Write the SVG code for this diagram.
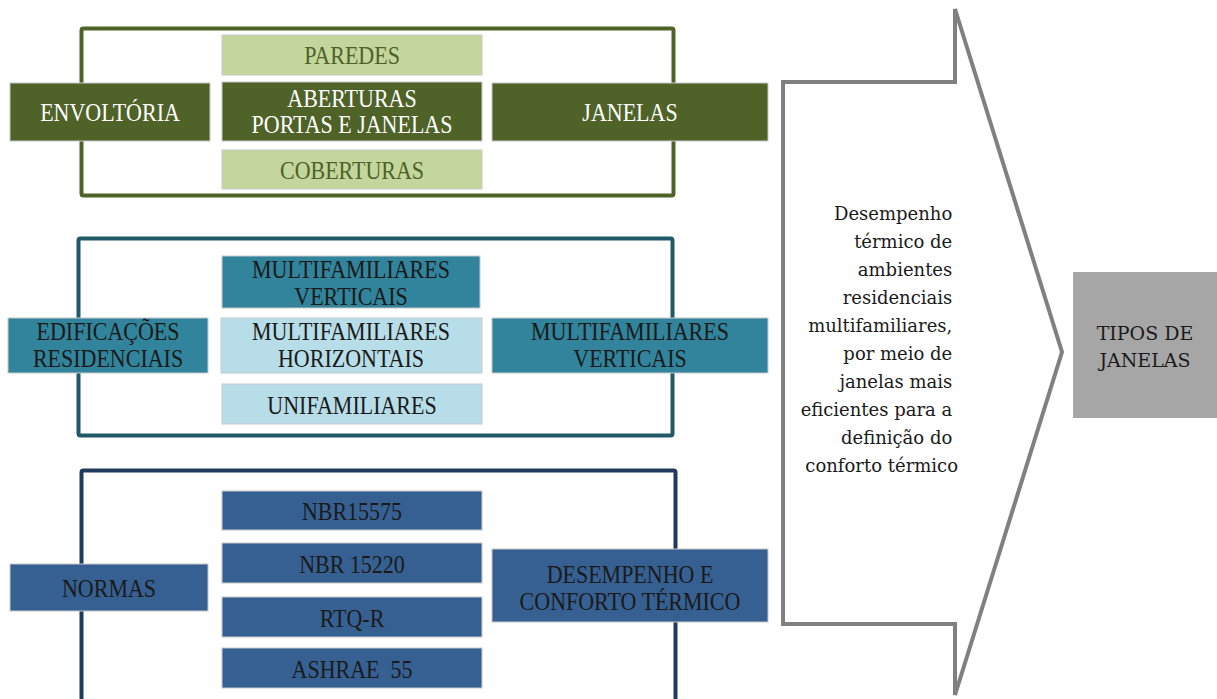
<svg xmlns="http://www.w3.org/2000/svg" width="1217" height="699" viewBox="0 0 1217 699">
<style>
.t{font-family:"Liberation Serif","Times New Roman",serif;font-size:22px;text-anchor:middle}
.a{font-family:"DejaVu Serif","Liberation Serif",serif;font-size:18px}
.frame{fill:none;stroke-width:4}
.box{stroke:#c8c8c8;stroke-width:1}
.g1{fill:#4f6228}.g2{fill:#c3d69b}
.c1{fill:#31849b}.c2{fill:#b7dee8}
.b1{fill:#366092}
.w{fill:#ffffff}.dg{fill:#4f6228}.dk{fill:#1a1a1a}
</style>
<rect width="1217" height="699" fill="#ffffff"/>
<g id="frames">
<rect id="frame-envoltoria" class="frame" x="81.5" y="28.5" width="592" height="167" rx="2" stroke="#4f6228"/>
<rect id="frame-edificacoes" class="frame" x="78.5" y="238.5" width="594" height="197" rx="2" stroke="#215968"/>
<rect id="frame-normas" class="frame" x="81.5" y="470.5" width="594" height="260" rx="2" stroke="#1f3a5f"/>
</g>
<g id="arrow">
<polygon points="783,82 955,82 955,9 1062,352 955,695 955,624 783,624" fill="#ffffff" stroke="#808080" stroke-width="4"/>
<text class="a dk" text-anchor="end">
<tspan x="958" y="220">Desempenho</tspan>
<tspan x="958" y="248">térmico de</tspan>
<tspan x="958" y="276">ambientes</tspan>
<tspan x="958" y="304">residenciais</tspan>
<tspan x="958" y="332">multifamiliares,</tspan>
<tspan x="958" y="360">por meio de</tspan>
<tspan x="958" y="388">janelas mais</tspan>
<tspan x="958" y="416">eficientes para a</tspan>
<tspan x="958" y="444">definição do</tspan>
<tspan x="958" y="472">conforto térmico</tspan>
</text>
</g>
<g id="tipos">
<rect x="1073" y="272" width="144" height="146" fill="#a6a6a6"/>
<text class="a dk" text-anchor="middle" style="font-size:19px"><tspan x="1145" y="340">TIPOS DE</tspan><tspan x="1145" y="367">JANELAS</tspan></text>
</g>
<g id="envoltoria">
<rect class="box g1" x="10" y="83" width="200" height="58"/>
<text class="t w" transform="translate(110,112) scale(1,1.18)" y="7.3">ENVOLTÓRIA</text>
</g>
<g id="paredes">
<rect class="box g2" x="222" y="35" width="260" height="40"/>
<text class="t dg" transform="translate(352,55) scale(1,1.18)" y="7.3">PAREDES</text>
</g>
<g id="aberturas">
<rect class="box g1" x="222" y="82" width="260" height="59"/>
<text class="t w" transform="translate(352,111.5) scale(1,1.18)"><tspan x="0" y="-4.2">ABERTURAS</tspan><tspan x="0" y="18.6">PORTAS E JANELAS</tspan></text>
</g>
<g id="coberturas">
<rect class="box g2" x="222" y="150" width="260" height="39"/>
<text class="t dg" transform="translate(352,170) scale(1,1.18)" y="7.3">COBERTURAS</text>
</g>
<g id="janelas">
<rect class="box g1" x="492" y="83" width="276" height="58"/>
<text class="t w" transform="translate(630,112) scale(1,1.18)" y="7.3">JANELAS</text>
</g>
<g id="edificacoes">
<rect class="box c1" x="8" y="318" width="200" height="55"/>
<text class="t dk" transform="translate(108,345) scale(1,1.18)"><tspan x="0" y="-4.2">EDIFICAÇÕES</tspan><tspan x="0" y="18.6">RESIDENCIAIS</tspan></text>
</g>
<g id="multi-verticais">
<rect class="box c1" x="222" y="256" width="258" height="52"/>
<text class="t dk" transform="translate(351,283) scale(1,1.18)"><tspan x="0" y="-4.2">MULTIFAMILIARES</tspan><tspan x="0" y="18.6">VERTICAIS</tspan></text>
</g>
<g id="multi-horizontais">
<rect class="box c2" x="221" y="318" width="261" height="55"/>
<text class="t dk" transform="translate(351,345) scale(1,1.18)"><tspan x="0" y="-4.2">MULTIFAMILIARES</tspan><tspan x="0" y="18.6">HORIZONTAIS</tspan></text>
</g>
<g id="unifamiliares">
<rect class="box c2" x="222" y="384" width="260" height="40"/>
<text class="t dk" transform="translate(352,405) scale(1,1.18)" y="7.3">UNIFAMILIARES</text>
</g>
<g id="multi-verticais-2">
<rect class="box c1" x="492" y="318" width="276" height="55"/>
<text class="t dk" transform="translate(630,345) scale(1,1.18)"><tspan x="0" y="-4.2">MULTIFAMILIARES</tspan><tspan x="0" y="18.6">VERTICAIS</tspan></text>
</g>
<g id="normas">
<rect class="box b1" x="10" y="564" width="198" height="47"/>
<text class="t dk" transform="translate(109,588) scale(1,1.18)" y="7.3">NORMAS</text>
</g>
<g id="nbr15575">
<rect class="box b1" x="222" y="491" width="260" height="39"/>
<text class="t dk" transform="translate(352,511.5) scale(1,1.18)" y="7.3">NBR15575</text>
</g>
<g id="nbr15220">
<rect class="box b1" x="222" y="543" width="260" height="40"/>
<text class="t dk" transform="translate(352,564) scale(1,1.18)" y="7.3">NBR 15220</text>
</g>
<g id="rtqr">
<rect class="box b1" x="222" y="597" width="260" height="40"/>
<text class="t dk" transform="translate(352,618) scale(1,1.18)" y="7.3">RTQ-R</text>
</g>
<g id="ashrae">
<rect class="box b1" x="222" y="648" width="260" height="40"/>
<text class="t dk" transform="translate(352,669) scale(1,1.18)" y="7.3">ASHRAE&#160; 55</text>
</g>
<g id="desempenho">
<rect class="box b1" x="492" y="549" width="276" height="73"/>
<text class="t dk" transform="translate(630,588) scale(1,1.18)"><tspan x="0" y="-4.2">DESEMPENHO E</tspan><tspan x="0" y="18.6">CONFORTO TÉRMICO</tspan></text>
</g>
</svg>
